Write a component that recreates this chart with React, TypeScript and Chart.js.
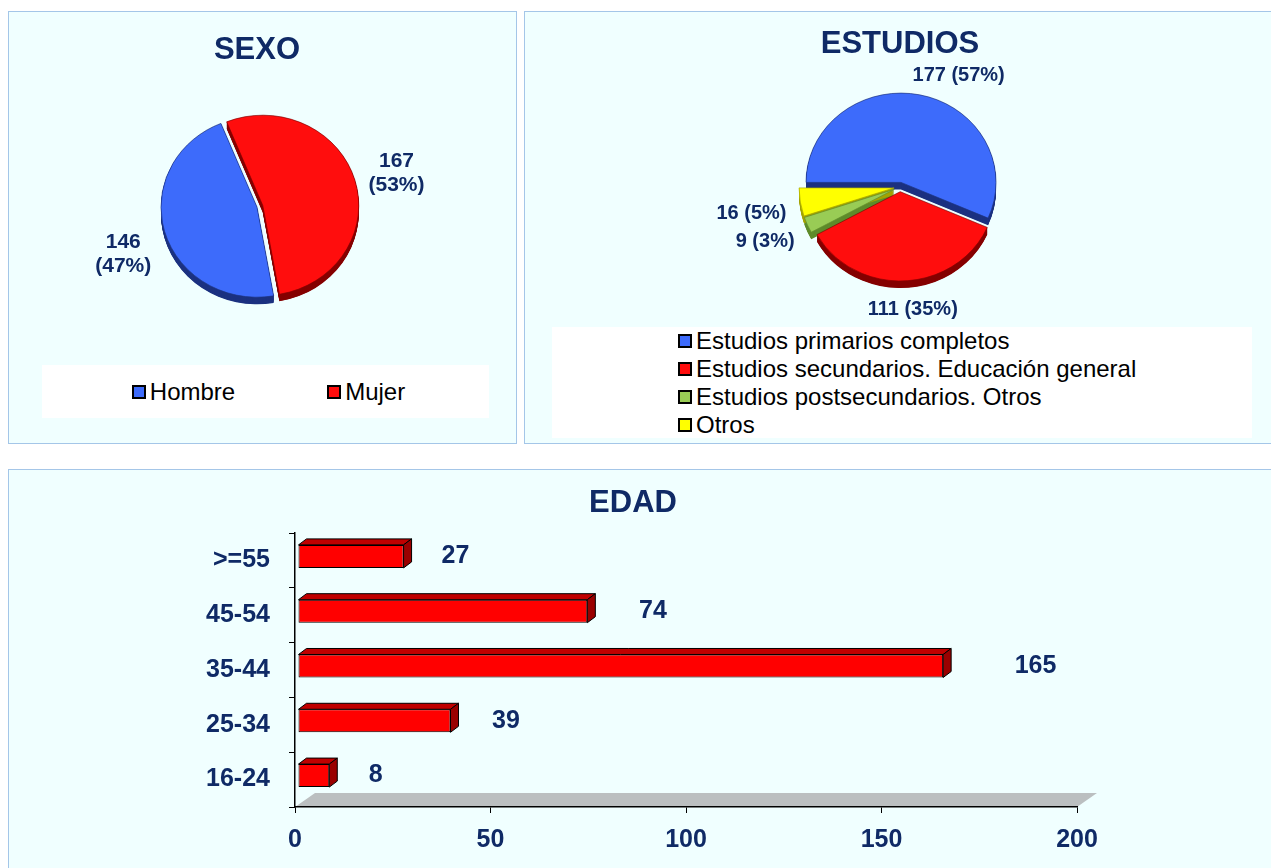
import React, { useEffect, useRef } from "react";
import { Chart, registerables } from "chart.js";

Chart.register(...registerables);

const FONT = "'Liberation Sans', Arial, Helvetica, sans-serif";
const NAVY = "#0F2A66";

// ---------- data ----------
const sexoLabels = ["Hombre", "Mujer"];
const sexoValues = [146, 167];

const estudiosLabels = [
  "Estudios primarios completos",
  "Estudios secundarios. Educación general",
  "Estudios postsecundarios. Otros",
  "Otros",
];
const estudiosValues = [177, 111, 9, 16];

const edadLabels = [">=55", "45-54", "35-44", "25-34", "16-24"];
const edadValues = [27, 74, 165, 39, 8];
const edadTicks = [0, 50, 100, 150, 200];

// ---------- styles ----------
const sexoColors = ["#3D6BFB", "#FF0D0D"];
const sexoSides = ["#1C3280", "#850000"];
const estudiosColors = ["#3D6BFB", "#FF0D0D", "#99CC55", "#FFFF00"];
const estudiosSides = ["#1C3280", "#850000", "#5F8C2C", "#A3A300"];

const clamp = (v: number, lo: number, hi: number) => Math.max(lo, Math.min(hi, v));

const pie3dPlugin = {
  id: "pie3d",
  beforeDatasetDraw(chart: any, args: any, opts: any) {
    if (!opts || !opts.enabled) return;
    const ctx = chart.ctx;
    const arcs = args.meta.data;
    if (!arcs.length) return false;
    const cx = arcs[0].x;
    const cy = arcs[0].y;
    const geo = arcs.map((a: any, i: number) => {
      const half = (a.startAngle + a.endAngle) / 2;
      const e = opts.explode[i] || 0;
      return {
        x: a.x + Math.cos(half) * e,
        y: a.y + Math.sin(half) * e,
        r: a.outerRadius,
        s: a.startAngle,
        t: a.endAngle,
        c: a.options.backgroundColor,
      };
    });
    ctx.save();
    ctx.translate(cx, cy);
    ctx.scale(1, opts.scaleY);
    ctx.translate(-cx, -cy);
    geo.forEach((g: any, i: number) => {
      ctx.fillStyle = opts.sides[i];
      for (let d = opts.depth; d >= 0.5; d -= 0.5) {
        ctx.beginPath();
        ctx.moveTo(g.x, g.y + d);
        ctx.arc(g.x, g.y + d, g.r, g.s, g.t);
        ctx.closePath();
        ctx.fill();
      }
    });
    geo.forEach((g: any, i: number) => {
      ctx.beginPath();
      ctx.moveTo(g.x, g.y);
      ctx.arc(g.x, g.y, g.r, g.s, g.t);
      ctx.closePath();
      ctx.fillStyle = g.c;
      ctx.fill();
      ctx.lineWidth = 0.7;
      ctx.strokeStyle = opts.sides[i];
      ctx.stroke();
    });
    ctx.restore();

    // labels
    const data = chart.data.datasets[0].data as number[];
    const total = data.reduce((s: number, v: number) => s + v, 0);
    ctx.save();
    ctx.font = `bold ${opts.labelSize}px ${FONT}`;
    ctx.fillStyle = NAVY;
    ctx.textAlign = "center";
    ctx.textBaseline = "middle";
    const lh = opts.labelSize * 1.15;
    geo.forEach((g: any, i: number) => {
      const half = (g.s + g.t) / 2;
      const dx = Math.cos(half);
      const dy = Math.sin(half);
      const R = g.r + opts.labelGap;
      const px = g.x + dx * R;
      const py = cy + (g.y - cy + dy * R) * opts.scaleY + (dy > 0 ? dy * opts.depth * opts.scaleY : 0);
      const v = data[i];
      const pct = Math.round((v / total) * 100);
      const lines = opts.multiline ? [`${v}`, `(${pct}%)`] : [`${v} (${pct}%)`];
      const w = Math.max(...lines.map((l) => ctx.measureText(l).width));
      const h = lh * lines.length;
      const centerX = px + (w / 2) * clamp(3.75 * dx, -1, 1);
      const centerY = py + (h / 2) * (dy >= 0 ? 0.7 : 0.6 * dy);
      const top = centerY - h / 2;
      lines.forEach((l, k) => ctx.fillText(l, centerX, top + lh * (k + 0.5)));
    });
    ctx.restore();
    return false;
  },
};

const bar3dPlugin = {
  id: "bar3d",
  beforeDatasetsDraw(chart: any, _args: any, opts: any) {
    const ctx = chart.ctx;
    const a = chart.chartArea;
    ctx.save();
    ctx.fillStyle = opts.floorColor;
    ctx.beginPath();
    ctx.moveTo(a.left, a.bottom);
    ctx.lineTo(a.right, a.bottom);
    ctx.lineTo(a.right + opts.floorDx, a.bottom - opts.floorDy);
    ctx.lineTo(a.left + opts.floorDx, a.bottom - opts.floorDy);
    ctx.closePath();
    ctx.fill();
    ctx.restore();
    ctx.save();
    ctx.translate(opts.shiftX, -opts.shiftY);
  },
  afterDatasetsDraw(chart: any, _args: any, opts: any) {
    const ctx = chart.ctx;
    const meta = chart.getDatasetMeta(0);
    meta.data.forEach((bar: any) => {
      const { x, y, base, height } = bar.getProps(["x", "y", "base", "height"], true);
      const t = y - height / 2;
      const b = y + height / 2;
      const dx = opts.depthX;
      const dy = opts.depthY;
      ctx.lineWidth = 1;
      ctx.strokeStyle = "#000";
      ctx.lineJoin = "round";
      ctx.beginPath();
      ctx.moveTo(base, t);
      ctx.lineTo(x, t);
      ctx.lineTo(x + dx, t - dy);
      ctx.lineTo(base + dx, t - dy);
      ctx.closePath();
      ctx.fillStyle = opts.topColor;
      ctx.fill();
      ctx.stroke();
      ctx.beginPath();
      ctx.moveTo(x, t);
      ctx.lineTo(x + dx, t - dy);
      ctx.lineTo(x + dx, b - dy);
      ctx.lineTo(x, b);
      ctx.closePath();
      ctx.fillStyle = opts.sideColor;
      ctx.fill();
      ctx.stroke();
    });
    ctx.restore();

    const data = chart.data.datasets[0].data as number[];
    ctx.save();
    ctx.font = `bold 25px ${FONT}`;
    ctx.fillStyle = NAVY;
    ctx.textAlign = "center";
    ctx.textBaseline = "middle";
    meta.data.forEach((bar: any, i: number) => {
      const len = bar.x - bar.base;
      ctx.fillText(String(data[i]), bar.x + opts.shiftX + 44 + 0.075 * len, bar.y - opts.shiftY);
    });
    ctx.restore();
  },
};

const titleOpts = (text: string, top: number, bottom: number) => ({
  display: true,
  text,
  color: NAVY,
  font: { family: FONT, size: 31, weight: "bold" },
  padding: { top, bottom },
});

const sexoConfig = (): any => ({
  type: "pie",
  data: {
    labels: sexoLabels,
    datasets: [
      { data: sexoValues, backgroundColor: sexoColors, borderWidth: 0, radius: 96, rotation: 170 },
    ],
  },
  options: {
    responsive: false,
    animation: false,
    rotation: 170,
    radius: 96,
    layout: { padding: { left: 0, right: 10, top: 0, bottom: 96.6 } },
    plugins: {
      legend: { display: false },
      tooltip: { enabled: false },
      title: titleOpts("SEXO", 19.4, 0),
      pie3d: {
        enabled: true,
        explode: [0, 6],
        sides: sexoSides,
        depth: 7.5,
        scaleY: 0.94,
        labelGap: 14,
        labelSize: 21,
        multiline: true,
      },
    },
  },
  plugins: [pie3dPlugin],
});

const estudiosConfig = (): any => ({
  type: "pie",
  data: {
    labels: estudiosLabels,
    datasets: [
      { data: estudiosValues, backgroundColor: estudiosColors, borderWidth: 0, radius: 95, rotation: 270 },
    ],
  },
  options: {
    responsive: false,
    animation: false,
    rotation: 270,
    radius: 95,
    layout: { padding: { left: 5, right: 0, top: 0, bottom: 130.6 } },
    plugins: {
      legend: { display: false },
      tooltip: { enabled: false },
      title: titleOpts("ESTUDIOS", 13.4, 0),
      pie3d: {
        enabled: true,
        explode: [5, 5, 6, 6],
        sides: estudiosSides,
        depth: 7.5,
        scaleY: 0.94,
        labelGap: 14,
        labelSize: 20,
        multiline: false,
      },
    },
  },
  plugins: [pie3dPlugin],
});

const edadConfig = (): any => ({
  type: "bar",
  data: {
    labels: edadLabels,
    datasets: [
      {
        data: edadValues,
        backgroundColor: "#FF0000",
        borderColor: "#000000",
        borderWidth: 1,
        borderSkipped: false,
        categoryPercentage: 1,
        barPercentage: 0.42,
      },
    ],
  },
  options: {
    indexAxis: "y",
    responsive: false,
    animation: false,
    layout: { padding: { left: 180, right: 194, top: 0, bottom: 0 } },
    plugins: {
      legend: { display: false },
      tooltip: { enabled: false },
      title: titleOpts("EDAD", 14.4, 11.4),
      bar3d: {
        floorColor: "#BBBFC0",
        floorDx: 20,
        floorDy: 14,
        shiftX: 3,
        shiftY: 4,
        depthX: 8,
        depthY: 6,
        topColor: "#C00000",
        sideColor: "#9A0000",
      },
    },
    scales: {
      x: {
        min: 0,
        max: 200,
        afterBuildTicks: (s: any) => {
          s.ticks = edadTicks.map((v) => ({ value: v }));
        },
        grid: { drawOnChartArea: false, drawTicks: true, tickLength: 6, color: "#000", tickColor: "#000", lineWidth: 1 },
        border: { display: true, color: "#000", width: 1.5, z: 1 },
        ticks: { color: NAVY, font: { family: FONT, size: 25, weight: "bold" }, padding: 12, maxRotation: 0 },
        afterFit: (s: any) => {
          s.height = 61;
        },
      },
      y: {
        grid: { drawOnChartArea: false, drawTicks: true, tickLength: 6, color: "#000", tickColor: "#000", lineWidth: 1, offset: true },
        border: { display: true, color: "#000", width: 1.5, z: 1 },
        ticks: { color: NAVY, font: { family: FONT, size: 25, weight: "bold" }, padding: 19 },
        afterFit: (s: any) => {
          s.width = 106;
        },
      },
    },
  },
  plugins: [bar3dPlugin],
});

function ChartCanvas(props: { config: () => any; left: number; top: number; width: number; height: number }) {
  const ref = useRef<HTMLCanvasElement>(null);
  useEffect(() => {
    const chart = new Chart(ref.current as HTMLCanvasElement, props.config());
    return () => chart.destroy();
  }, []);
  return (
    <canvas
      ref={ref}
      width={props.width}
      height={props.height}
      style={{ position: "absolute", left: props.left, top: props.top, width: props.width, height: props.height }}
    />
  );
}

const panelStyle = (left: number, top: number, width: number, height: number): React.CSSProperties => ({
  position: "absolute",
  left,
  top,
  width,
  height,
  background: "#F0FFFF",
  border: "1px solid #A4C6E8",
  boxSizing: "border-box",
});

function Swatch({ color }: { color: string }) {
  return (
    <span
      style={{
        display: "inline-block",
        width: 14,
        height: 14,
        background: color,
        border: "2px solid #000",
        boxSizing: "border-box",
        marginRight: 4,
        flex: "none",
      }}
    />
  );
}

export default function App() {
  return (
    <div
      style={{
        position: "absolute",
        left: 0,
        top: 0,
        width: 1271,
        height: 868,
        overflow: "hidden",
        background: "#FFFFFF",
        fontFamily: FONT,
      }}
    >
      <div style={panelStyle(8, 11, 509, 433)} />
      <div style={panelStyle(524, 11, 770, 433)} />
      <div style={panelStyle(8, 469, 1290, 420)} />

      <ChartCanvas config={sexoConfig} left={9} top={12} width={506} height={430} />
      <ChartCanvas config={estudiosConfig} left={525} top={12} width={745} height={430} />
      <ChartCanvas config={edadConfig} left={9} top={470} width={1262} height={398} />

      <div
        style={{
          position: "absolute",
          left: 42,
          top: 365,
          width: 447,
          height: 53,
          background: "#FFFFFF",
          display: "flex",
          alignItems: "center",
          justifyContent: "center",
          gap: 92,
          paddingLeft: 6,
          boxSizing: "border-box",
          fontSize: 24,
          color: "#000",
        }}
      >
        {sexoLabels.map((l, i) => (
          <span key={l} style={{ display: "flex", alignItems: "center", whiteSpace: "nowrap" }}>
            <Swatch color={sexoColors[i]} />
            {l}
          </span>
        ))}
      </div>

      <div
        style={{
          position: "absolute",
          left: 552,
          top: 327,
          width: 700,
          height: 111,
          background: "#FFFFFF",
          paddingLeft: 126,
          boxSizing: "border-box",
          fontSize: 24,
          lineHeight: "28px",
          color: "#000",
        }}
      >
        {estudiosLabels.map((l, i) => (
          <div key={l} style={{ display: "flex", alignItems: "center", height: 28, whiteSpace: "nowrap" }}>
            <Swatch color={estudiosColors[i]} />
            {l}
          </div>
        ))}
      </div>
    </div>
  );
}
